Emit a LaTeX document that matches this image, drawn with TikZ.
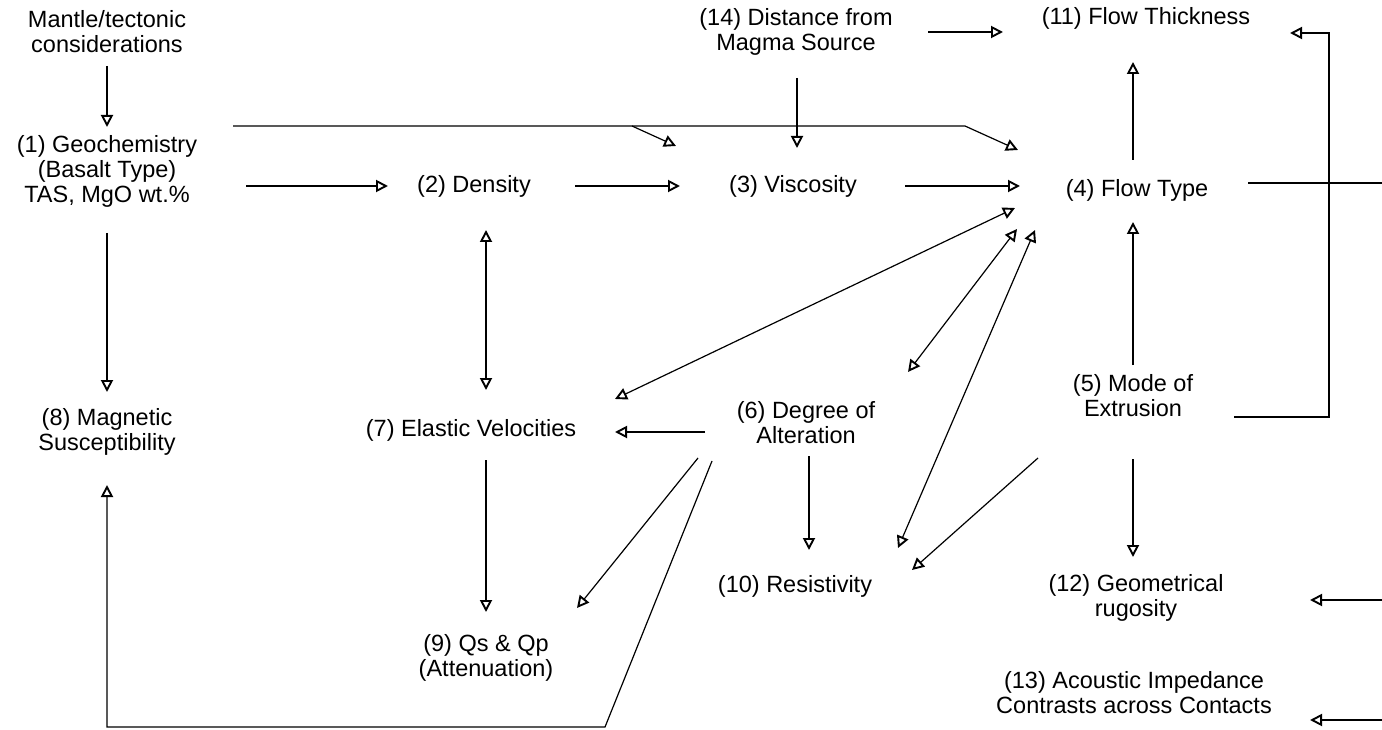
\documentclass[tikz,border=0pt]{standalone}
\usepackage{fontspec}
\setmainfont{Liberation Sans}
\usetikzlibrary{arrows.meta,calc}
\begin{document}
\begin{tikzpicture}[x=1pt,y=-1pt,
  lbl/.style={align=center,inner sep=0pt,font=\fontsize{23.5}{25}\selectfont},
  conn/.style={line width=1.2pt,draw=black},
  tip/.tip={Triangle[open,length=12pt,width=12pt,line width=1.9pt]},
  arr/.style={conn,-tip},
  darr/.style={conn,tip-tip}]
\useasboundingbox[fill=white] (0,0) rectangle (1382,730);
% nodes
\node[lbl] (mantle) at (107,32) {Mantle/tectonic\\considerations};
\node[lbl] (geo) at (107,171) {(1) Geochemistry\\(Basalt Type)\\TAS, MgO wt.\%};
\node[lbl] (dens) at (474,186) {(2) Density};
\node[lbl] (visc) at (793,186) {(3) Viscosity};
\node[lbl] (flow) at (1137,190) {(4) Flow Type};
\node[lbl] (mode) at (1133,396) {(5) Mode of\\Extrusion};
\node[lbl] (alt) at (806,423) {(6) Degree of\\Alteration};
\node[lbl] (elas) at (471,430) {(7) Elastic Velocities};
\node[lbl] (mag) at (107,432) {(8) Magnetic\\Susceptibility};
\node[lbl] (qs) at (486,658) {(9) Qs \& Qp\\(Attenuation)};
\node[lbl] (res) at (795,586) {(10) Resistivity};
\node[lbl] (thick) at (1146,18) {(11) Flow Thickness};
\node[lbl] (rug) at (1136,598) {(12) Geometrical\\rugosity};
\node[lbl] (acou) at (1134,693) {(13) Acoustic Impedance\\Contrasts across Contacts};
\node[lbl] (dist) at (796,32) {(14) Distance from\\Magma Source};
% helper coordinates
\coordinate (topA) at (632,126);
\coordinate (topB) at (965,126);
\coordinate (edgeF) at (1382,183);
\coordinate (loopBR) at (1329,417);
\coordinate (loopTR) at (1329,33);
\coordinate (edgeR) at (1382,600);
\coordinate (edgeA) at (1382,720);
\coordinate (botR) at (605,727);
\coordinate (botL) at (107,727);
% connectors
\draw[arr] ($(mantle)+(0,34)$) -- ($(geo)+(0,-44)$);
\draw[arr] ($(geo)+(139,15)$) -- ($(dens)+(-86,0)$);
\draw[arr] ($(dens)+(101,0)$) -- ($(visc)+(-113,0)$);
\draw[arr] ($(visc)+(112,0)$) -- ($(flow)+(-117,-4)$);
\draw[arr] ($(geo)+(126,-45)$) -- (topB) -- ($(flow)+(-119,-40)$);
\draw[arr] (topA) -- ($(visc)+(-117,-40)$);
\draw[arr] ($(dist)+(1,46)$) -- ($(visc)+(4,-38)$);
\draw[arr] ($(dist)+(132,0)$) -- ($(thick)+(-143,14)$);
\draw[arr] ($(flow)+(-4,-30)$) -- ($(thick)+(-13,44)$);
\draw[arr] ($(mode)+(0,-31)$) -- ($(flow)+(-4,32)$);
\draw[conn] ($(flow)+(111,-7)$) -- (edgeF);
\draw[arr] ($(mode)+(101,21)$) -- (loopBR) -- (loopTR) -- ($(thick)+(144,15)$);
\draw[darr] ($(dens)+(12,44)$) -- ($(elas)+(15,-40)$);
\draw[darr] ($(elas)+(144,-31)$) -- ($(flow)+(-122,18)$);
\draw[arr] ($(alt)+(-101,9)$) -- ($(elas)+(144,2)$);
\draw[darr] ($(flow)+(-120,39)$) -- ($(alt)+(102,-51)$);
\draw[darr] ($(flow)+(-102,40)$) -- ($(res)+(103,-38)$);
\draw[arr] ($(mode)+(-95,62)$) -- ($(res)+(117,-16)$);
\draw[arr] ($(alt)+(3,33)$) -- ($(res)+(14,-36)$);
\draw[arr] ($(mode)+(0,63)$) -- ($(rug)+(-3,-41)$);
\draw[arr] (edgeR) -- ($(rug)+(174,2)$);
\draw[arr] (edgeA) -- ($(acou)+(176,27)$);
\draw[arr] ($(elas)+(15,30)$) -- ($(qs)+(0,-46)$);
\draw[arr] ($(alt)+(-108,35)$) -- ($(qs)+(91,-50)$);
\draw[arr] ($(alt)+(-94,38)$) -- (botR) -- (botL) -- ($(mag)+(0,53)$);
\draw[arr] ($(geo)+(0,62)$) -- ($(mag)+(0,-40)$);
\end{tikzpicture}
\end{document}
